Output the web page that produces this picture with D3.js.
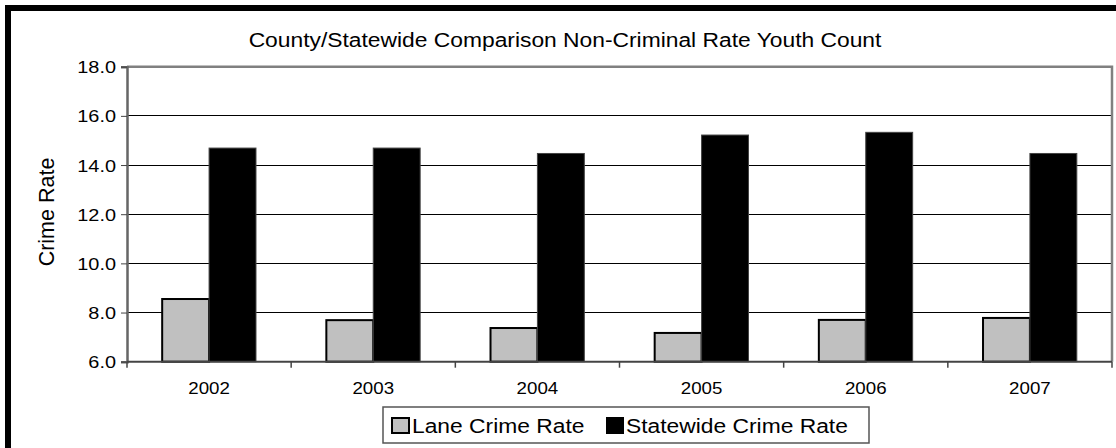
<!DOCTYPE html>
<html><head><meta charset="utf-8">
<script src="https://cdn.jsdelivr.net/npm/d3@7"></script>
<style>html,body{margin:0;padding:0;background:#fff;overflow:hidden;}svg{display:block;font-family:Arial,"Liberation Sans",sans-serif;}</style>
</head><body>
<svg id="c" width="1116" height="448"></svg>
<script>
const years = ["2002","2003","2004","2005","2006","2007"];
const laneRate = [8.55, 7.69, 7.37, 7.17, 7.70, 7.78];
const stateRate = [14.69, 14.69, 14.47, 15.22, 15.33, 14.47];
const yTicks = [6,8,10,12,14,16,18];
const seriesNames = ["Lane Crime Rate","Statewide Crime Rate"];
const seriesColors = ["#c0c0c0","#000000"];
const titleText = "County/Statewide Comparison Non-Criminal Rate Youth Count";
const yTitle = "Crime Rate";

const svg = d3.select("#c");
const L = 127, R = 1112, T = 66.7, B = 361.7;
const sx = 1.17;

// outer border
svg.append("rect").attr("x",8).attr("y",8).attr("width",1300).attr("height",1000)
  .attr("fill","#fff").attr("stroke","#000").attr("stroke-width",6);

function txt(x,y,s,fs,anchor,rot){
  const g = svg.append("g").attr("transform",`translate(${x},${y})` + (rot?` rotate(${rot})`:"") + (rot?"":` scale(${sx},1)`));
  g.append("text").attr("text-anchor",anchor||"middle").attr("font-size",fs).attr("fill","#000").text(s);
  return g;
}

const x0 = d3.scaleBand().domain(years).range([L,R]).paddingInner(0).paddingOuter(0);
const y = d3.scaleLinear().domain([6,18]).range([B,T]);
const bw = x0.bandwidth()/3.5;

// gridlines
svg.append("g").selectAll("line").data(yTicks.filter(d=>d>6 && d<18)).join("line")
  .attr("x1",L).attr("x2",R).attr("y1",d=>y(d)).attr("y2",d=>y(d))
  .attr("stroke","#000").attr("stroke-width",1).attr("shape-rendering","crispEdges");

// plot border top/right
svg.append("path").attr("d",`M${L},${T}H${R}V${B}`).attr("fill","none").attr("stroke","#808080").attr("stroke-width",2.5);

// bars
years.forEach((yr,i)=>{
  const c = x0(yr) + x0.bandwidth()/2;
  svg.append("rect").attr("x",c-bw).attr("y",y(laneRate[i])).attr("width",bw).attr("height",B-y(laneRate[i]))
    .attr("fill",seriesColors[0]).attr("stroke","#000").attr("stroke-width",2);
  svg.append("rect").attr("x",c).attr("y",y(stateRate[i])).attr("width",bw).attr("height",B-y(stateRate[i]))
    .attr("fill",seriesColors[1]).attr("stroke","#444").attr("stroke-width",1);
});

// y axis
const ya = svg.append("g").attr("transform",`translate(${L},0)`)
  .call(d3.axisLeft(y).tickValues(yTicks).tickFormat(d3.format(".1f")).tickSize(6).tickPadding(5));
ya.select(".domain").attr("stroke","#666").attr("stroke-width",2.5);
ya.selectAll(".tick line").attr("stroke","#444");
ya.selectAll(".tick text").remove();
yTicks.forEach(t=>txt(L-11, y(t)+6.5, d3.format(".1f")(t), 17, "end"));

// x axis
svg.append("line").attr("x1",L).attr("x2",R).attr("y1",B).attr("y2",B).attr("stroke","#444").attr("stroke-width",2);
svg.append("g").selectAll("line").data(d3.range(years.length+1)).join("line")
  .attr("x1",i=>L+i*x0.bandwidth()).attr("x2",i=>L+i*x0.bandwidth()).attr("y1",B).attr("y2",B+6)
  .attr("stroke","#444").attr("stroke-width",1.5);
years.forEach(yr=>txt(x0(yr)+x0.bandwidth()/2, B+32, yr, 16, "middle"));

// titles
txt(565, 47, titleText, 19.5, "middle");
txt(54, 212, yTitle, 21.5, "middle", -90);

// legend
svg.append("rect").attr("x",383).attr("y",407).attr("width",486).attr("height",36)
  .attr("fill","#fff").attr("stroke","#555").attr("stroke-width",1.5);
svg.append("rect").attr("x",392).attr("y",418).attr("width",17).attr("height",15)
  .attr("fill",seriesColors[0]).attr("stroke","#000").attr("stroke-width",2);
txt(412, 433, seriesNames[0], 19.5, "start");
svg.append("rect").attr("x",606).attr("y",417).attr("width",18).attr("height",17)
  .attr("fill",seriesColors[1]);
txt(626, 433, seriesNames[1], 19.5, "start");
</script>
</body></html>
